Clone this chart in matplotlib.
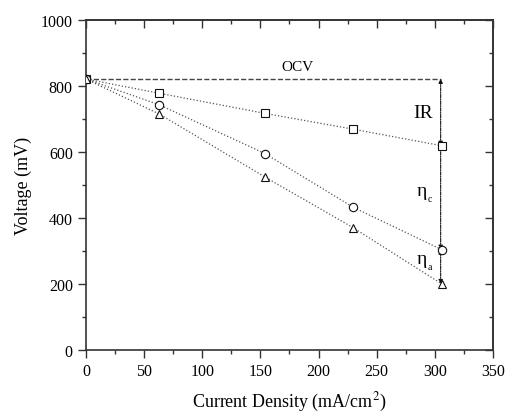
import matplotlib.pyplot as plt
from matplotlib.ticker import MultipleLocator

plt.rcParams['font.family'] = ['Liberation Serif', 'DejaVu Serif']
plt.rcParams['mathtext.fontset'] = 'stix'

current = [0, 63, 154, 230, 306]
v_square = [821, 778, 717, 669, 619]
v_circle = [821, 743, 595, 432, 304]
v_triangle = [821, 715, 524, 370, 200]
ocv = 822

fig = plt.figure(figsize=(5.09, 4.14), dpi=100)
ax = fig.add_axes([86/509, 1-351/414, (493-86)/509, (351-21)/414])

for v, m in [(v_square, 's'), (v_circle, 'o'), (v_triangle, '^')]:
    ax.plot(current, v, color='#555555', ls=':', lw=0.9, marker=m,
            mfc='white', mec='#111111', ms=6, mew=0.8, zorder=3)

# OCV line
ax.plot([current[0], current[-1] - 1], [ocv, ocv], color='#444444', ls='--', lw=1.0)

# loss arrows
xa = current[-1] - 1
segs = [(ocv, v_square[-1]), (v_square[-1], v_circle[-1]), (v_circle[-1], v_triangle[-1])]
for top, bot in segs:
    ax.annotate('', xy=(xa, top), xytext=(xa, bot),
                arrowprops=dict(arrowstyle='<|-|>', color='#111111', lw=0.8,
                                ls=(0, (3, 1, 1, 1)), mutation_scale=6,
                                shrinkA=0, shrinkB=0), zorder=2)

ax.text(182, 858, 'OCV', ha='center', va='center', fontsize=11)
ax.text(290, 721, 'IR', ha='center', va='center', fontsize=14)
ax.text(293, 482, 'η', ha='right', va='center', fontsize=14)
ax.text(293.5, 458, 'c', ha='left', va='center', fontsize=7)
ax.text(293, 276, 'η', ha='right', va='center', fontsize=14)
ax.text(293.5, 252, 'a', ha='left', va='center', fontsize=7)

ax.set_xlim(0, 350)
ax.set_ylim(0, 1000)
ax.xaxis.set_major_locator(MultipleLocator(50))
ax.xaxis.set_minor_locator(MultipleLocator(25))
ax.yaxis.set_major_locator(MultipleLocator(200))
ax.yaxis.set_minor_locator(MultipleLocator(100))
ax.tick_params(which='both', direction='out', labelsize=11.5, width=1.0, color='#333333')
ax.tick_params(which='major', length=6)
ax.tick_params(which='minor', length=3)

# inward ticks on top and right
top = ax.secondary_xaxis('top')
right = ax.secondary_yaxis('right')
top.xaxis.set_major_locator(MultipleLocator(50))
top.xaxis.set_minor_locator(MultipleLocator(25))
right.yaxis.set_major_locator(MultipleLocator(200))
right.yaxis.set_minor_locator(MultipleLocator(100))
for sec in (top, right):
    sec.tick_params(which='both', direction='in', labeltop=False, labelright=False,
                    width=1.0, color='#333333')
    sec.tick_params(which='major', length=6)
    sec.tick_params(which='minor', length=3)
    for s in sec.spines.values():
        s.set_linewidth(1.2)
        s.set_color('#333333')

for s in ax.spines.values():
    s.set_linewidth(1.2)
    s.set_color('#333333')

ax.set_xlabel('Current Density (mA/cm$^2$)', fontsize=13, labelpad=8)
ax.set_ylabel('Voltage (mV)', fontsize=13, labelpad=6)

fig.savefig('out.png', dpi=100)
